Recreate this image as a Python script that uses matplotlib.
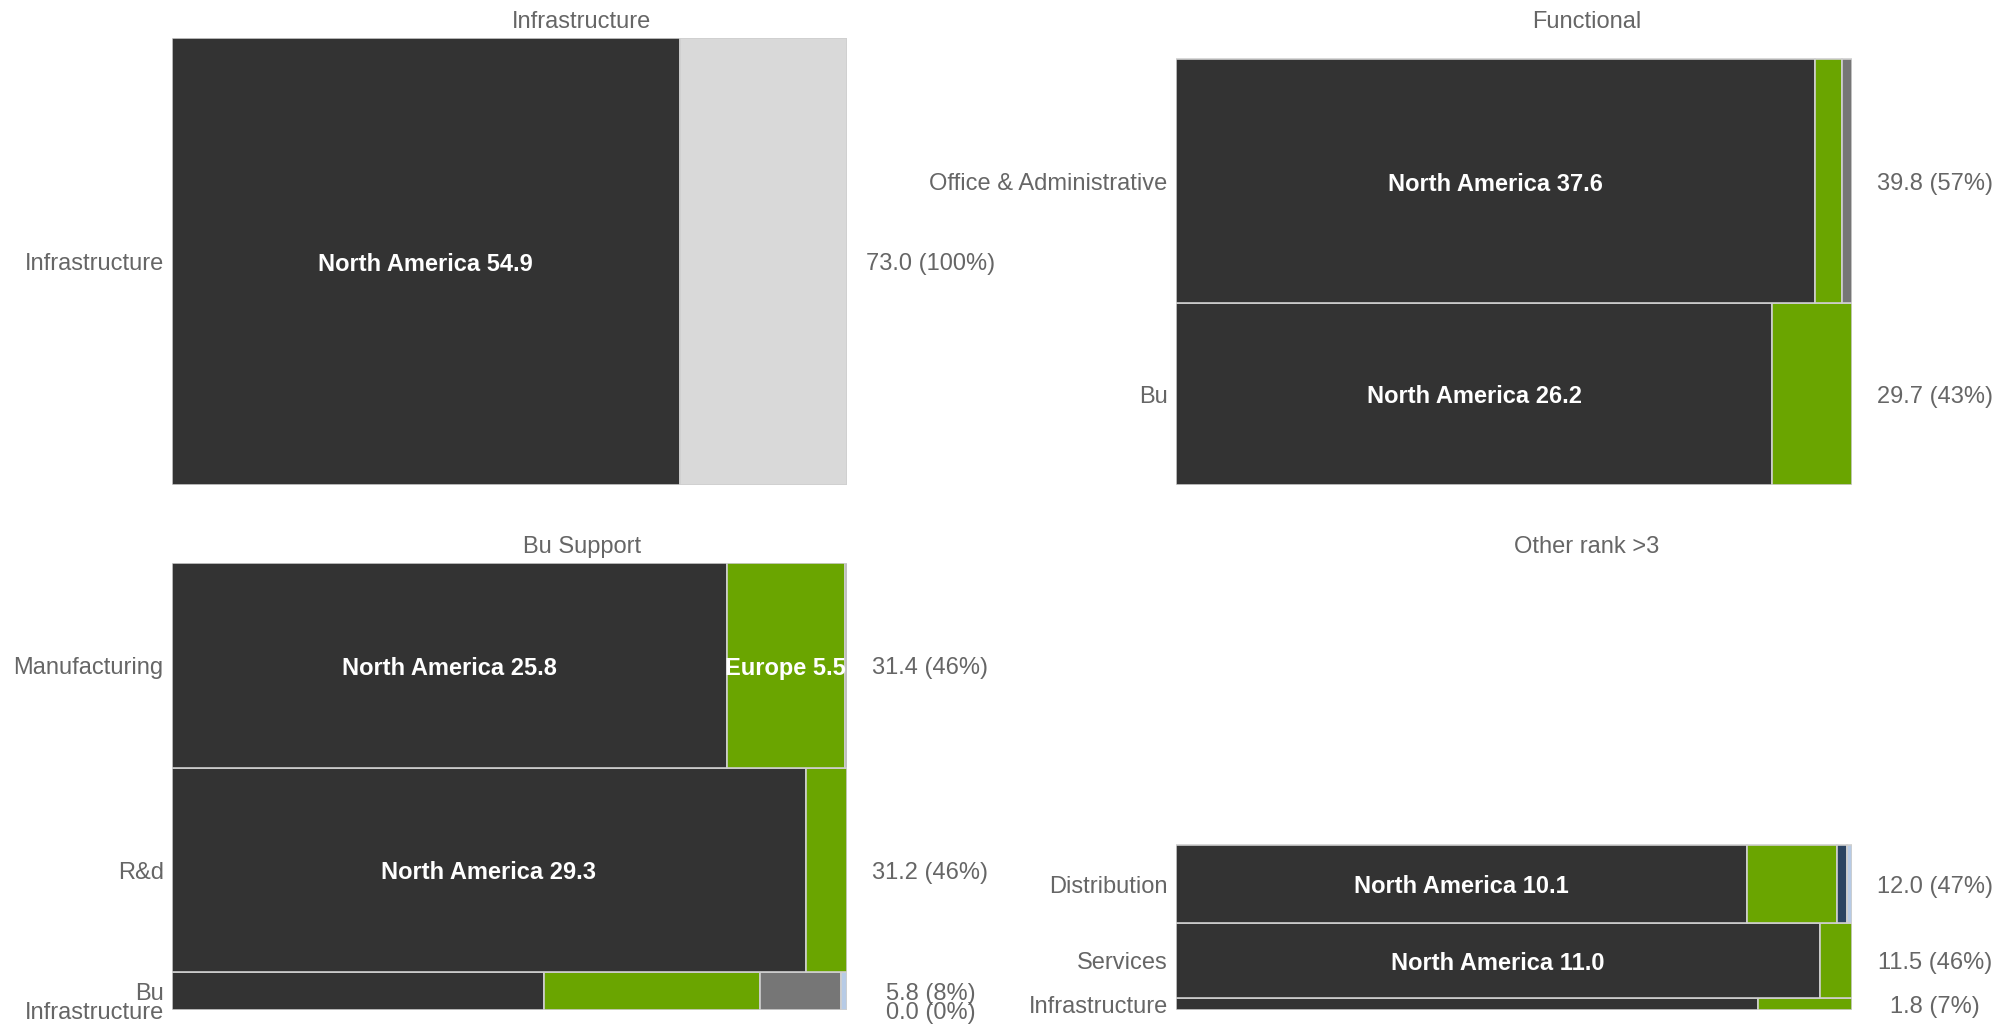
import matplotlib.pyplot as plt

plt.rcParams['font.family'] = ['Liberation Sans', 'DejaVu Sans']

regions = ["North America", "Europe", "Asia Pacific", "Latin America",
           "Middle East & Africa", "Unallocated"]
region_colors = ["#333333", "#6aa500", "#767676", "#2b4462", "#b7cbe6", "#d9d9d9"]
# the unallocated remainder carries no value label
region_labelled = [True, True, True, True, True, False]

panel_titles = ["Infrastructure", "Functional", "Bu Support", "Other rank >3"]

infrastructure_rows = ["Infrastructure"]
infrastructure_vals = [[54.9, 0, 0, 0, 0, 18.1]]

functional_rows = ["Office & Administrative", "Bu"]
functional_vals = [[37.6, 1.6, 0.6, 0, 0, 0],
                   [26.2, 3.5, 0, 0, 0, 0]]

bu_support_rows = ["Manufacturing", "R&d", "Bu", "Infrastructure"]
bu_support_vals = [[25.8, 5.5, 0.1, 0, 0, 0],
                   [29.3, 1.9, 0, 0, 0, 0],
                   [3.2, 1.85, 0.7, 0, 0.05, 0],
                   [0, 0, 0, 0, 0, 0]]

other_rows = ["Distribution", "Services", "Infrastructure"]
other_vals = [[10.1, 1.6, 0, 0.17, 0.09, 0],
              [11.0, 0.54, 0, 0, 0, 0],
              [1.55, 0.25, 0, 0, 0, 0]]

panel_rows = [infrastructure_rows, functional_rows, bu_support_rows, other_rows]
panel_vals = [infrastructure_vals, functional_vals, bu_support_vals, other_vals]

W, H = 2013, 1024
# panel boxes in pixels: left, top, right, bottom
boxes = [(172, 38, 847, 485), (1176, 38, 1852, 485),
         (172, 563, 847, 1010), (1176, 563, 1852, 1010)]

text_col = "#666666"
fig = plt.figure(figsize=(W / 100, H / 100), dpi=100)

totals = [sum(sum(r) for r in vals) for vals in panel_vals]
# panels on the same line share the vertical scale
row_max = [max(totals[0], totals[1]), max(totals[2], totals[3])]

for i, (title, rows, vals) in enumerate(zip(panel_titles, panel_rows, panel_vals)):
    l, t, r, b = boxes[i]
    ax = fig.add_axes([l / W, 1 - b / H, (r - l) / W, (b - t) / H])
    ymax = row_max[i // 2]
    ax.set_xlim(0, 1)
    ax.set_ylim(0, ymax)
    ax.axis("off")
    px_per_unit = (b - t) / ymax
    width_px = r - l

    ax.text(0.607, 1 + 16 / (b - t), title, transform=ax.transAxes,
            ha="center", va="center", fontsize=17, color=text_col)

    y0 = 0.0
    for name, segs in reversed(list(zip(rows, vals))):
        total = sum(segs)
        yc = y0 + total / 2
        left = 0.0
        if total > 0:
            for reg, v, c, lab in zip(regions, segs, region_colors, region_labelled):
                if v <= 0:
                    continue
                w = v / total
                ax.barh(y0, w, height=total, left=left, align="edge", color=c,
                        edgecolor="#cfcfcf", linewidth=1.2)
                if lab and total * px_per_unit > 40 and w * width_px > 100:
                    ax.annotate(f"{reg} {v:.1f}", xy=(left + w / 2, yc),
                                xytext=(0, -2), textcoords="offset points",
                                ha="center", va="center", color="white",
                                fontsize=17, fontweight="bold")
                left += w
        ax.annotate(name, xy=(0, yc), xytext=(-6, -2), textcoords="offset points",
                    ha="right", va="center", fontsize=17, color=text_col)
        pct = total / totals[i] * 100
        ax.annotate(f"{total:.1f} ({pct:.0f}%)", xy=(1, yc), xytext=(60, -2),
                    textcoords="offset points", ha="center", va="center",
                    fontsize=17, color=text_col)
        y0 += total

fig.savefig("out.png", dpi=100)
